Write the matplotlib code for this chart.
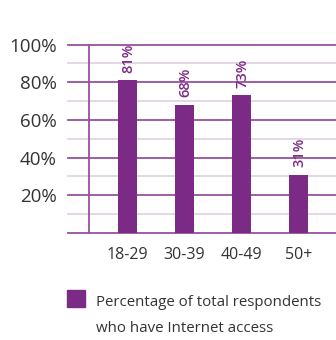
import matplotlib.pyplot as plt
from matplotlib.patches import Rectangle

# Internet access by age group
age_groups = ['18-29', '30-39', '40-49', '50+']
pct_access = [81, 68, 73, 31]
y_ticks = [20, 40, 60, 80, 100]

purple = '#7b2a85'
grid_major = '#96509e'
grid_minor = '#dccbdf'
text_grey = '#333333'

plt.rcParams['font.family'] = ['Open Sans', 'DejaVu Sans']

fig = plt.figure(figsize=(3.36, 3.40), dpi=100)
ax = fig.add_axes([68 / 336, 1 - 233 / 340, 1 - 68 / 336, (233 - 44.5) / 340])

x = list(range(len(age_groups)))
ax.bar(x, pct_access, width=0.335, color=purple, zorder=3)

# horizontal rules: darker every 20%, lighter in between
for v in range(0, 101, 10):
    if v % 20 == 0:
        ax.axhline(v, color=grid_major, lw=1.3, zorder=1, clip_on=False)
    else:
        ax.axhline(v, color=grid_minor, lw=1.1, zorder=1, clip_on=False)

# vertical rule left of the first bar
ax.plot([-0.675, -0.675], [0, 100], color=grid_major, lw=1.3, zorder=2, clip_on=False)

# value labels above bars
for xi, v in zip(x, pct_access):
    ax.text(xi + 0.02, v + 4, f'{v}%', rotation=90, ha='center', va='bottom',
            color=purple, fontsize=10.5, fontweight='semibold', zorder=4)

ax.set_xlim(-1.04, 3.66)
ax.set_ylim(0, 100)

ax.set_yticks(y_ticks)
ax.set_yticklabels([f'{t}%' for t in y_ticks], fontsize=13.5, color=text_grey)
ax.set_xticks(x)
ax.set_xticklabels(age_groups, fontsize=11.5, color=text_grey)
ax.tick_params(axis='y', length=0, pad=8)
ax.tick_params(axis='x', length=0, pad=10)

for s in ax.spines.values():
    s.set_visible(False)

# legend
fig.patches.append(Rectangle((67 / 336, 1 - 307 / 340), 18 / 336, 17 / 340,
                             transform=fig.transFigure, color=purple))
fig.text(96 / 336, 1 - 302 / 340, 'Percentage of total respondents',
         fontsize=10.8, color=text_grey, va='center', ha='left')
fig.text(96 / 336, 1 - 328 / 340, 'who have Internet access',
         fontsize=10.8, color=text_grey, va='center', ha='left')

fig.savefig('out.png', dpi=100)
